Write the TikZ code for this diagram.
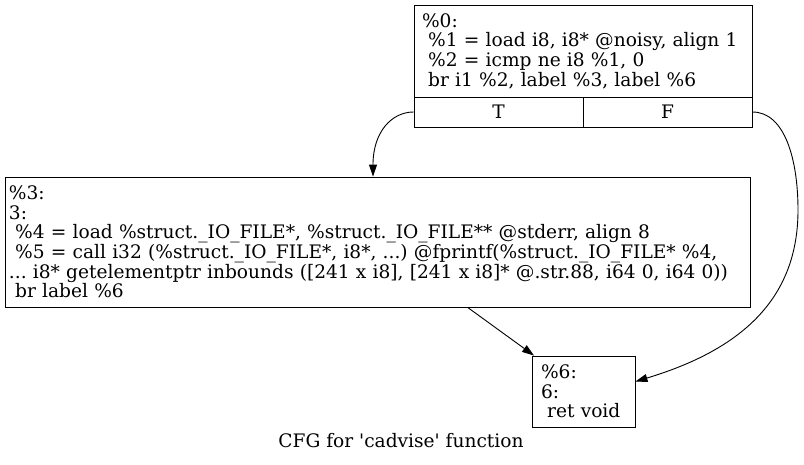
\documentclass[tikz,border=0pt]{standalone}
\usepackage{fontspec}
\setmainfont{DejaVu Serif}
\usepackage{tikz}
\usetikzlibrary{arrows.meta}

\begin{document}
\frenchspacing
\begin{tikzpicture}[
    x=1pt, y=-1pt,
    every node/.style={
        font=\fontsize{18.6}{19.6}\selectfont
    },
    block/.style={
        rectangle,
        draw=black,
        line width=0.9pt,
        align=left,
        inner ysep=0pt
    },
    port/.style={
        rectangle,
        draw=black,
        line width=0.9pt,
        minimum width=169pt,
        minimum height=30pt,
        inner sep=0pt
    },
    arrow/.style={
        -{Triangle[length=12pt,width=8pt]},
        line width=0.9pt
    }
]

\useasboundingbox (0,0) rectangle (804,464);

\node[block, text width=322pt, inner xsep=8pt, minimum height=92pt] (b0) at (583,51)
    {\%0:\\\ \%1 = load i8, i8* @noisy, align 1\\\ \%2 = icmp ne i8 \%1, 0\\\ br i1 \%2, label \%3, label \%6};
\node[port] (b0T) at (498.5,112) {T};
\node[port] (b0F) at (667.5,112) {F};

\node[block, text width=737pt, inner xsep=4pt, minimum height=130pt] (b3) at (377.5,242)
    {\%3:\\3:\\\ \%4 = load \%struct.\_IO\_FILE*, \%struct.\_IO\_FILE** @stderr, align 8\\\ \%5 = call i32 (\%struct.\_IO\_FILE*, i8*, ...) @fprintf(\%struct.\_IO\_FILE* \%4,\\... i8* getelementptr inbounds ([241 x i8], [241 x i8]* @.str.88, i64 0, i64 0))\\\ br label \%6};

\node[block, text width=85pt, inner xsep=9pt, minimum height=71pt] (b6) at (583.5,391.5)
    {\%6:\\6:\\\ ret void};

\node (caption) at (401,441) {CFG for \textquotesingle cadvise\textquotesingle{} function};

\draw[arrow] (b0T.west) .. controls (392,112) and ([xshift=-4.5pt, yshift=45pt]b3.north) .. ([xshift=-4.5pt]b3.north);
\draw[arrow] (b0F.east) .. controls (785,112) and (798,160) .. (798,210)
    .. controls (798,300) and (740,350) .. ([yshift=10pt]b6.east);
\draw[arrow] (b3) -- (b6);

\end{tikzpicture}
\end{document}
